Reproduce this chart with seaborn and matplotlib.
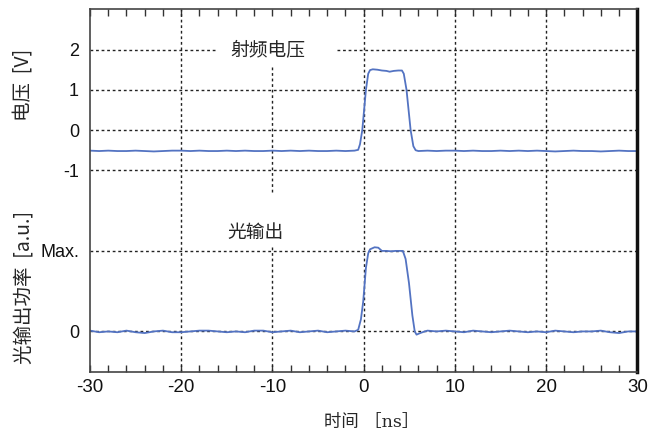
import numpy as np
import pandas as pd
import matplotlib
matplotlib.use("Agg")
import matplotlib.pyplot as plt
import seaborn as sns

# ---------------- data ----------------
t_volt = [-30, -29, -28, -27, -26, -25, -24, -23, -22, -21, -20, -19, -18, -17, -16,
          -15, -14, -13, -12, -11, -10, -9, -8, -7, -6, -5, -4, -3, -2, -1.0,
          -0.6, -0.4, -0.15, 0.25, 0.5, 0.7, 1.0, 1.5, 2.0, 2.5, 2.85, 3.3, 3.8, 4.2,
          4.4, 4.7, 5.15, 5.45, 5.7, 6, 7, 8, 9, 10, 11, 12, 13, 14, 15, 16, 17, 18,
          19, 20, 21, 22, 23, 24, 25, 26, 27, 28, 29, 30]
v_volt = [-0.51, -0.52, -0.51, -0.52, -0.52, -0.51, -0.52, -0.53, -0.52, -0.51, -0.51, -0.52,
          -0.51, -0.52, -0.52, -0.51, -0.52, -0.51, -0.52, -0.52, -0.51, -0.52, -0.51, -0.52,
          -0.51, -0.52, -0.52, -0.51, -0.52, -0.51,
          -0.49, -0.35, 0.0, 1.0, 1.40, 1.49, 1.51, 1.50, 1.48, 1.47, 1.45, 1.47, 1.48, 1.48,
          1.40, 1.0, 0.0, -0.40, -0.50, -0.52, -0.51, -0.52, -0.51, -0.51, -0.52, -0.51,
          -0.52, -0.52, -0.51, -0.52, -0.51, -0.52, -0.51, -0.52, -0.53, -0.52, -0.51, -0.52,
          -0.52, -0.53, -0.52, -0.51, -0.52, -0.52]

t_light = [-30, -29, -28, -27, -26, -25, -24, -23, -22, -21, -20, -19, -18, -17, -16,
           -15, -14, -13, -12, -11, -10, -9, -8, -7, -6, -5, -4, -3, -2, -1.0,
           -0.6, -0.3, -0.05, 0.25, 0.5, 0.7, 1.2, 1.6, 2.0, 2.5, 3.0, 3.5, 4.0, 4.3,
           4.6, 4.97, 5.34, 5.6, 5.8, 6.2, 6.7, 7, 8, 9, 10, 11, 12, 13, 14, 15, 16, 17, 18,
           19, 20, 21, 22, 23, 24, 25, 26, 27, 28, 29, 30]
p_light = [0.01, -0.01, 0.0, -0.01, 0.01, -0.01, -0.02, 0.0, 0.01, -0.01, -0.01, 0.0,
           0.01, 0.01, 0.0, -0.01, 0.0, -0.01, 0.01, 0.01, -0.01, 0.0, 0.01, -0.01,
           0.0, 0.01, -0.01, 0.0, 0.01, 0.0,
           0.02, 0.15, 0.37, 0.79, 0.97, 1.02, 1.045, 1.04, 1.0, 1.0, 0.995, 1.0, 1.0, 1.0,
           0.90, 0.60, 0.20, 0.0, -0.04, -0.02, 0.0, 0.01, 0.0, 0.01, 0.0, -0.01, 0.01,
           0.0, -0.01, 0.0, 0.01, 0.0, -0.01, 0.0, -0.01, 0.01, 0.0, -0.01, 0.0, 0.0,
           0.01, -0.01, -0.02, 0.0, 0.0]

x_ticks = [-30, -20, -10, 0, 10, 20, 30]
y_tick_labels = ["2", "1", "0", "-1", "Max.", "0"]

# ---------------- style ----------------
sns.set_style("white")
plt.rcParams["font.family"] = ["Liberation Sans", "Noto Sans CJK SC", "DejaVu Sans"]

LINE_C = "#5373c2"
LIGHT_OFFSET, LIGHT_SCALE = -5.0, 2.0

fig = plt.figure(figsize=(6.5, 4.37), dpi=100)
ax = fig.add_axes([90 / 650, 1 - 371.7 / 437, (637.3 - 90) / 650, (371.7 - 9.3) / 437])

df_v = pd.DataFrame({"t": t_volt, "y": v_volt})
df_p = pd.DataFrame({"t": t_light, "y": np.array(p_light) * LIGHT_SCALE + LIGHT_OFFSET})

sns.lineplot(data=df_v, x="t", y="y", ax=ax, color=LINE_C, linewidth=1.3)
sns.lineplot(data=df_p, x="t", y="y", ax=ax, color=LINE_C, linewidth=1.3)

ax.set_xlim(-30, 30)
ax.set_ylim(-6.0, 3.0)

# grid (dotted black)
gkw = dict(color="#222222", linewidth=1.0, linestyle=(0, (2, 2)), zorder=1)
for yv in [1, 0, -1, LIGHT_OFFSET + LIGHT_SCALE, LIGHT_OFFSET]:
    ax.plot([-30, 30], [yv, yv], **gkw)
ax.plot([-30, -16.3], [2, 2], **gkw)
ax.plot([-2.9, 30], [2, 2], **gkw)
for xv in [-20, 0, 10, 20]:
    ax.plot([xv, xv], [-6, 3], **gkw)
ax.plot([-10, -10], [-1.54, 1.57], **gkw)
ax.plot([-10, -10], [-6, -2.86], **gkw)

# ticks
ax.set_xticks(x_ticks)
ax.set_xticklabels([str(v) for v in x_ticks])
ax.set_xticks(np.arange(-28, 30, 2), minor=True)
ax.tick_params(axis="x", which="both", direction="in", top=True, bottom=True,
               length=5, width=1, color="#333333", labelsize=13.5, pad=5,
               labelcolor="#111111")
ax.set_yticks([2, 1, 0, -1, LIGHT_OFFSET + LIGHT_SCALE, LIGHT_OFFSET])
ax.set_yticklabels(y_tick_labels)
ax.tick_params(axis="y", which="both", length=0, labelsize=13, pad=8,
               labelcolor="#111111")

ax.set_xlabel("")
ax.set_ylabel("")

for s in ["left", "bottom", "top"]:
    ax.spines[s].set_color("#444444")
    ax.spines[s].set_linewidth(1.2)
ax.spines["right"].set_color("#111111")
ax.spines["right"].set_linewidth(2.5)

# annotations
ax.text(-10.5, 2.0, "射频电压", ha="center", va="center", fontsize=13.5,
        family=["Noto Sans CJK SC"])
ax.text(-11.8, -2.55, "光输出", ha="center", va="center", fontsize=13.5,
        family=["Noto Sans CJK SC"])

fig.text(24 / 650, 1 - 85 / 437, "电压  [V]", rotation=90, ha="center", va="center",
         fontsize=14, family=["Noto Sans CJK SC", "Liberation Sans"])
fig.text(24 / 650, 1 - 288 / 437, "光输出功率  [a.u.]", rotation=90, ha="center",
         va="center", fontsize=14, family=["Noto Sans CJK SC", "Liberation Sans"])
fig.text(372 / 650, 1 - 422 / 437, "时间 ［ns］", ha="center", va="center",
         fontsize=12.5, family=["DejaVu Serif", "Noto Sans CJK SC"])

fig.savefig("out.png", dpi=100)
